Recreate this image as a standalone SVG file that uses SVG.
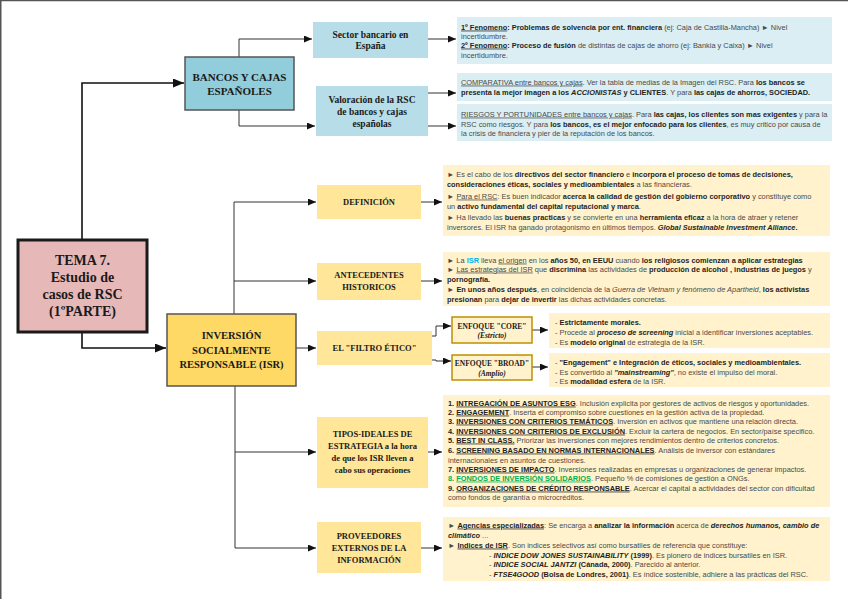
<svg xmlns="http://www.w3.org/2000/svg" width="848" height="599" viewBox="0 0 848 599">
<defs>
<style>
.t{font-family:"Liberation Sans",Arial,sans-serif;font-size:7.4px;fill:#4a4a4a}
.b{font-weight:bold;fill:#1f1f1f}
.i{font-style:italic}
.u{text-decoration:underline}
.n{font-family:"Liberation Serif","DejaVu Serif",serif;font-weight:bold;fill:#1a1a1a;text-anchor:middle}
.c{fill:none;stroke:#333;stroke-width:1}
.ck{fill:none;stroke:#111;stroke-width:1.6}
.lb{fill:#b7dee8}
.tb{fill:#daeef3}
.ly{fill:#ffe699}
.ty{fill:#fff2cc}
</style>
<marker id="a" markerUnits="userSpaceOnUse" markerWidth="9" markerHeight="8" refX="8" refY="3.5" orient="auto"><path d="M0,0 L8,3.5 L0,7 z" fill="#111"/></marker>
<marker id="ak" markerUnits="userSpaceOnUse" markerWidth="12" markerHeight="10" refX="11" refY="4.5" orient="auto"><path d="M0,0 L11,4.5 L0,9 z" fill="#111"/></marker>
</defs>
<rect width="848" height="599" fill="#fff"/>
<path d="M0.75,599 V0.5 H848" fill="none" stroke="#555" stroke-width="1.5"/>

<g id="connectors">
<path class="ck" d="M82,240 V83 H184" marker-end="url(#ak)"/>
<path class="ck" d="M82,332 V348 H166" marker-end="url(#ak)"/>
<path class="c" d="M239,57 V39 H312" marker-end="url(#a)"/>
<path class="c" d="M239,110 V126 H315" marker-end="url(#a)"/>
<path class="c" d="M428,39 H456" marker-end="url(#a)"/>
<path class="c" d="M428,93 H456" marker-end="url(#a)"/>
<path class="c" d="M428,126 H456" marker-end="url(#a)"/>
<path class="c" d="M234,314 V202 H316" marker-end="url(#a)"/>
<path class="c" d="M234,281 H316" marker-end="url(#a)"/>
<path class="c" d="M235,386 V548 H316" marker-end="url(#a)"/>
<path class="c" d="M235,452 H316" marker-end="url(#a)"/>
<path class="c" d="M296,348 H316" marker-end="url(#a)"/>
<path class="c" d="M421,202 H442" marker-end="url(#a)"/>
<path class="c" d="M421,281 H442" marker-end="url(#a)"/>
<path class="c" d="M428,452 H442" marker-end="url(#a)"/>
<path class="c" d="M421,548 H442" marker-end="url(#a)"/>
<path class="c" d="M432,336 H436 V326 H451" marker-end="url(#a)"/>
<path class="c" d="M432,360 H436 V361 H451" marker-end="url(#a)"/>
<path class="c" d="M532,330 H548" marker-end="url(#a)"/>
<path class="c" d="M532,367 H548" marker-end="url(#a)"/>
</g>

<g id="tema">
<rect x="18" y="240" width="129" height="92" fill="#e6b8b7" stroke="#1a1a1a" stroke-width="3"/>
<text class="n" style="font-size:14px"><tspan x="82.5" y="265">TEMA 7.</tspan><tspan x="82.5" y="282">Estudio de</tspan><tspan x="82.5" y="299">casos de RSC</tspan><tspan x="82.5" y="316">(1ºPARTE)</tspan></text>
</g>

<g id="bancos">
<rect x="185" y="57" width="109" height="53" fill="#92cddc" stroke="#555" stroke-width="1.5"/>
<text class="n" style="font-size:11px"><tspan x="239.5" y="81">BANCOS Y CAJAS</tspan><tspan x="239.5" y="95">ESPAÑOLES</tspan></text>
</g>

<g id="sector">
<rect class="lb" x="313" y="22" width="115" height="36"/>
<text class="n" style="font-size:9.5px"><tspan x="370.5" y="38.3">Sector bancario en</tspan><tspan x="370.5" y="49.3">España</tspan></text>
</g>

<g id="valoracion">
<rect class="lb" x="316" y="86" width="112" height="50"/>
<text class="n" style="font-size:9.5px"><tspan x="372" y="103.3">Valoración de la RSC</tspan><tspan x="372" y="115.3">de bancos y cajas</tspan><tspan x="372" y="127.3">españolas</tspan></text>
</g>

<g id="txt-sector">
<rect class="tb" x="457" y="17" width="375" height="47"/>
<text class="t" x="461" y="29.6"><tspan class="b u">1º Fenomeno</tspan><tspan class="b">: Problemas de solvencia por ent. financiera</tspan> (ej: Caja de Castilla-Mancha) ► Nivel</text>
<text class="t" x="461" y="38.6">incertidumbre.</text>
<text class="t" x="461" y="47.6"><tspan class="b u">2º Fenomeno</tspan><tspan class="b">: Proceso de fusión</tspan> de distintas de cajas de ahorro (ej: Bankia y Caixa) ► Nivel</text>
<text class="t" x="461" y="57.6">incertidumbre.</text>
</g>

<g id="txt-comparativa">
<rect class="tb" x="457" y="73" width="375" height="28"/>
<text class="t" x="461" y="84.6"><tspan class="u">COMPARATIVA entre bancos y cajas</tspan>. Ver la tabla de medias de la Imagen del RSC. Para <tspan class="b">los bancos se</tspan></text>
<text class="t" x="461" y="94.6"><tspan class="b">presenta la mejor imagen a los </tspan><tspan class="b i">ACCIONISTAS</tspan><tspan class="b"> y CLIENTES</tspan>. Y para <tspan class="b">las cajas de ahorros, SOCIEDAD.</tspan></text>
</g>

<g id="txt-riesgos">
<rect class="tb" x="457" y="104" width="375" height="37"/>
<text class="t" x="461" y="116.6"><tspan class="u">RIESGOS Y PORTUNIDADES entre bancos y cajas</tspan>. Para <tspan class="b">las cajas, los clientes son mas exigentes</tspan> y para la</text>
<text class="t" x="461" y="126.6">RSC como riesgos. Y para <tspan class="b">los bancos, es el mejor enfocado para los clientes</tspan>, es muy critico por causa de</text>
<text class="t" x="461" y="135.6">la crisis de financiera y pier de la reputación de los bancos.</text>
</g>

<g id="isr">
<rect x="167" y="314" width="129" height="72" fill="#ffd966" stroke="#555" stroke-width="1.5"/>
<text class="n" style="font-size:10.5px"><tspan x="231.5" y="339">INVERSIÓN</tspan><tspan x="231.5" y="354">SOCIALMENTE</tspan><tspan x="231.5" y="368">RESPONSABLE (ISR)</tspan></text>
</g>

<g id="definicion">
<rect class="ly" x="317" y="185" width="104" height="34"/>
<text class="n" style="font-size:8.5px" x="369" y="205">DEFINICIÓN</text>
</g>

<g id="antecedentes">
<rect class="ly" x="317" y="263" width="104" height="37"/>
<text class="n" style="font-size:8.5px"><tspan x="369" y="278">ANTECEDENTES</tspan><tspan x="369" y="290">HISTORICOS</tspan></text>
</g>

<g id="filtro">
<rect class="ly" x="317" y="331" width="115" height="34"/>
<text class="n" style="font-size:8.5px" x="374.5" y="351">EL "FILTRO ÉTICO"</text>
</g>

<g id="tipos">
<rect class="ly" x="317" y="417" width="111" height="71"/>
<text class="n" style="font-size:8.5px"><tspan x="372.5" y="437">TIPOS-IDEALES DE</tspan><tspan x="372.5" y="449">ESTRATEGIA a la hora</tspan><tspan x="372.5" y="461">de que los ISR lleven a</tspan><tspan x="372.5" y="473">cabo sus operaciones</tspan></text>
</g>

<g id="proveedores">
<rect class="ly" x="317" y="522" width="104" height="51"/>
<text class="n" style="font-size:8.5px"><tspan x="369" y="539">PROVEEDORES</tspan><tspan x="369" y="551">EXTERNOS DE LA</tspan><tspan x="369" y="563">INFORMACIÓN</tspan></text>
</g>

<g id="core">
<rect x="452" y="317" width="80" height="26" fill="#fff2cc" stroke="#bf9000" stroke-width="1.5"/>
<text class="n" style="font-size:7.5px"><tspan x="492" y="328.6">ENFOQUE "CORE"</tspan><tspan x="492" y="337.6" font-style="italic">(Estricto)</tspan></text>
</g>

<g id="broad">
<rect x="452" y="355" width="80" height="25" fill="#fff2cc" stroke="#bf9000" stroke-width="1.5"/>
<text class="n" style="font-size:7.5px"><tspan x="492" y="365.6">ENFOQUE "BROAD"</tspan><tspan x="492" y="375.6" font-style="italic">(Amplio)</tspan></text>
</g>

<g id="txt-definicion">
<rect class="ty" x="443" y="165" width="387" height="71"/>
<text class="t" x="447" y="176.6">► Es el cabo de los <tspan class="b">directivos del sector financiero</tspan> e <tspan class="b">incorpora el proceso de tomas de decisiones,</tspan></text>
<text class="t" x="447" y="186.6"><tspan class="b">consideraciones éticas, sociales y medioambientales</tspan> a las financieras.</text>
<text class="t" x="447" y="198.6">► <tspan class="u">Para el RSC</tspan>: Es buen indicador <tspan class="b">acerca la calidad de gestión del gobierno corporativo</tspan> y constituye como</text>
<text class="t" x="447" y="208.6">un <tspan class="b">activo fundamental del capital reputacional y marca</tspan>.</text>
<text class="t" x="447" y="219.6">► Ha llevado las <tspan class="b">buenas practicas</tspan> y se convierte en una <tspan class="b">herramienta eficaz</tspan> a la hora de atraer y retener</text>
<text class="t" x="447" y="229.6">inversores. El ISR ha ganado protagonismo en últimos tiempos. <tspan class="b i">Global Sustainable Investment Alliance</tspan><tspan class="b">.</tspan></text>
</g>

<g id="txt-antecedentes">
<rect class="ty" x="443" y="252" width="387" height="54"/>
<text class="t" x="447" y="262.6">► La <tspan class="b" style="fill:#00b0f0">ISR</tspan> lleva <tspan class="u">el origen</tspan> en los <tspan class="b">años 50, en EEUU</tspan> cuando <tspan class="b">los religiosos comienzan a aplicar estrategias</tspan></text>
<text class="t" x="447" y="271.6">► <tspan class="u">Las estrategias del ISR</tspan> que <tspan class="b">discrimina</tspan> las actividades de <tspan class="b">producción de alcohol , industrias de juegos</tspan> y</text>
<text class="t" x="447" y="281.6"><tspan class="b">pornografía.</tspan></text>
<text class="t" x="447" y="291.6">► <tspan class="b">En unos años después</tspan>, en coincidencia de la <tspan class="i">Guerra de Vietnam y fenómeno de Apartheid</tspan>, <tspan class="b">los activistas</tspan></text>
<text class="t" x="447" y="301.6"><tspan class="b">presionan</tspan> para <tspan class="b">dejar de invertir</tspan> las dichas actividades concretas.</text>
</g>

<g id="txt-core">
<rect class="ty" x="549" y="313" width="281" height="35"/>
<text class="t" x="555" y="324.6">- <tspan class="b">Estrictamente morales.</tspan></text>
<text class="t" x="555" y="334.6">- Procede al <tspan class="b i">proceso de screening</tspan> inicial a identificar inversiones aceptables.</text>
<text class="t" x="555" y="344.6">- Es <tspan class="b">modelo original</tspan> de estrategia de la ISR.</text>
</g>

<g id="txt-broad">
<rect class="ty" x="549" y="353" width="281" height="34"/>
<text class="t" x="555" y="364.6">- <tspan class="b">"Engagement" e Integración de éticos, sociales y medioambientales.</tspan></text>
<text class="t" x="555" y="374.6">- Es convertido al <tspan class="b i">"mainstreaming"</tspan>, no existe el impulso del moral.</text>
<text class="t" x="555" y="383.6">- Es <tspan class="b">modalidad esfera</tspan> de la ISR.</text>
</g>

<g id="txt-tipos">
<rect class="ty" x="443" y="395" width="387" height="112"/>
<text class="t" x="448" y="405.6"><tspan class="b">1. </tspan><tspan class="b u">INTREGACIÓN DE ASUNTOS ESG</tspan>. Inclusión explicita por gestores de activos de riesgos y oportunidades.</text>
<text class="t" x="448" y="414.6"><tspan class="b">2. </tspan><tspan class="b u">ENGAGEMENT</tspan>. Inserta el compromiso sobre cuestiones en la gestión activa de la propiedad.</text>
<text class="t" x="448" y="423.6"><tspan class="b">3. </tspan><tspan class="b u">INVERSIONES CON CRITERIOS TEMÁTICOS</tspan>. Inversión en activos que mantiene una relación directa.</text>
<text class="t" x="448" y="433.6"><tspan class="b">4. </tspan><tspan class="b u">INVERSIONES CON CRITERIOS DE EXCLUSIÓN</tspan>. Excluir la cartera de negocios. En sector/paíse specifico.</text>
<text class="t" x="448" y="442.6"><tspan class="b">5. </tspan><tspan class="b u">BEST IN CLASS.</tspan> Priorizar las inversiones con mejores rendimientos dentro de criterios concretos.</text>
<text class="t" x="448" y="452.6"><tspan class="b">6. </tspan><tspan class="b u">SCREENING BASADO EN NORMAS INTERNACIONALES</tspan>. Análisis de inversor con estándares</text>
<text class="t" x="448" y="462.6">internacionales en asuntos de cuestiones.</text>
<text class="t" x="448" y="471.6"><tspan class="b">7. </tspan><tspan class="b u">INVERSIONES DE IMPACTO</tspan>. Inversiones realizadas en empresas u organizaciones de generar impactos.</text>
<text class="t" x="448" y="480.6"><tspan class="b" style="fill:#00b050">8. </tspan><tspan class="b u" style="fill:#00b050">FONDOS DE INVERSIÓN SOLIDARIOS</tspan>. Pequeño % de comisiones de gestión a ONGs.</text>
<text class="t" x="448" y="490.6"><tspan class="b">9. </tspan><tspan class="b u">ORGANIZACIONES DE CRÉDITO RESPONSABLE</tspan>. Acercar el capital a actividades del sector con dificultad</text>
<text class="t" x="448" y="499.6">como fondos de garantía o microcréditos.</text>
</g>

<g id="txt-proveedores">
<rect class="ty" x="443" y="517" width="387" height="64"/>
<text class="t" x="448" y="527.6">► <tspan class="b u">Agencias especializadas</tspan>: Se encarga a <tspan class="b">analizar la información</tspan> acerca de <tspan class="b i">derechos humanos, cambio de</tspan></text>
<text class="t" x="448" y="537.6"><tspan class="b i">climático</tspan> ...</text>
<text class="t" x="448" y="547.6">► <tspan class="b u">Indices de ISR</tspan>. Son indices selectivos así como bursatiles de referencia que constituye:</text>
<text class="t" x="489" y="557.6">- <tspan class="b i">INDICE DOW JONES SUSTAINABILITY</tspan><tspan class="b"> (1999)</tspan>. Es pionero de indices bursatiles en ISR.</text>
<text class="t" x="489" y="566.6">- <tspan class="b i">INDICE SOCIAL JANTZI</tspan><tspan class="b"> (Cánada, 2000)</tspan>. Parecido al anterior.</text>
<text class="t" x="489" y="576.6">- <tspan class="b i">FTSE4GOOD</tspan><tspan class="b"> (Bolsa de Londres, 2001)</tspan>. Es índice sostenible, adhiere a las prácticas del RSC.</text>
</g>
</svg>
